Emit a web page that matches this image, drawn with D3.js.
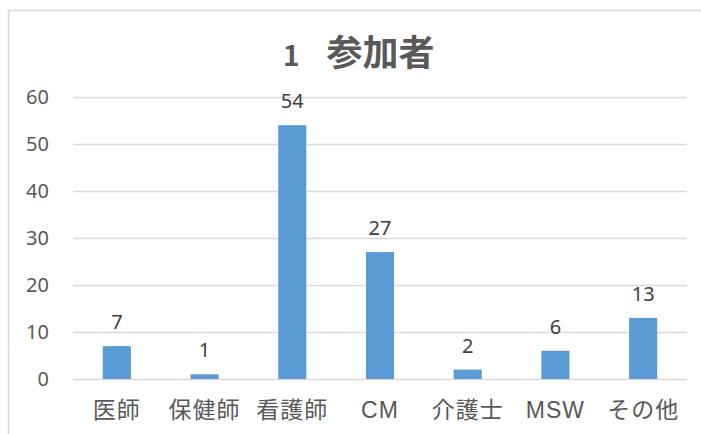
<!DOCTYPE html>
<html><head><meta charset="utf-8">
<script src="https://cdn.jsdelivr.net/npm/d3@7"></script>
<style>body{margin:0;background:#fff}svg{display:block}</style>
</head><body>
<script>
const categories = ["医師","保健師","看護師","CM","介護士","MSW","その他"];
const values = [7,1,54,27,2,6,13];
const yTicks = [0,10,20,30,40,50,60];
const titleNum = "1";
const titleText = "参加者";

const W = 701, H = 434;
const svg = d3.select("body").append("svg").attr("width", W).attr("height", H);
const cjk = "'Noto Sans CJK JP',sans-serif";
const numFont = "'Noto Sans','Noto Sans CJK JP',sans-serif";
const catFont = "'Liberation Sans','Noto Sans CJK JP',sans-serif";

svg.append("rect").attr("x", 8.5).attr("y", 10.5).attr("width", 720).attr("height", 440)
  .attr("fill", "#fff").attr("stroke", "#d9d9d9").attr("stroke-width", 1.5);

const x = d3.scaleBand().domain(categories).range([73, 687]).paddingInner(0.68).paddingOuter(0.34);
const y = d3.scaleLinear().domain([0, 60]).range([379, 97]);

const gy = svg.append("g").attr("transform", "translate(73,0)")
  .call(d3.axisLeft(y).tickValues(yTicks).tickSize(-614).tickPadding(24));
gy.select(".domain").remove();
gy.selectAll(".tick line").attr("stroke", "#d9d9d9").attr("stroke-width", 1.5);
gy.selectAll(".tick text").attr("fill", "#595959").style("font-family", numFont).style("font-size", "20px");

svg.append("g").selectAll("rect").data(values).join("rect")
  .attr("x", (d, i) => x(categories[i]))
  .attr("width", x.bandwidth())
  .attr("y", d => y(d))
  .attr("height", d => y(0) - y(d))
  .attr("fill", "#5b9bd5");

svg.append("g").selectAll("text").data(values).join("text")
  .attr("x", (d, i) => x(categories[i]) + x.bandwidth() / 2)
  .attr("y", d => y(d) - 17)
  .attr("text-anchor", "middle")
  .attr("fill", "#404040").style("font-family", numFont).style("font-size", "20px")
  .text(d => d);

const gx = svg.append("g").attr("transform", "translate(0,379)")
  .call(d3.axisBottom(x).tickSize(0).tickPadding(0));
gx.select(".domain").remove();
gx.selectAll(".tick text").attr("fill", "#595959").attr("dy", null).attr("y", 39)
  .style("font-family", catFont).style("font-size", "23px").style("letter-spacing", "1px");

const t = svg.append("text").attr("x", 283).attr("y", 66)
  .attr("fill", "#595959").style("font-family", cjk).style("font-weight", "bold");
t.append("tspan").style("font-size", "28px").text(titleNum);
t.append("tspan").attr("dx", 27).style("font-size", "36px").text(titleText);
</script>
</body></html>
